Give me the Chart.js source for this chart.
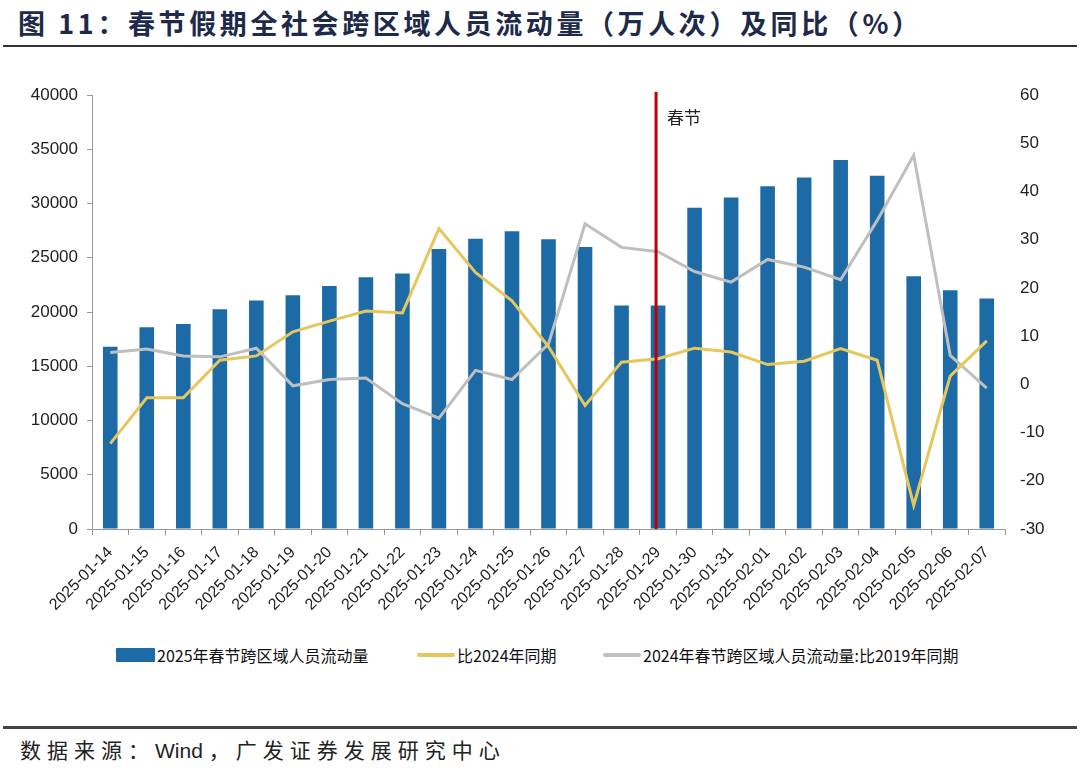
<!DOCTYPE html>
<html lang="zh-CN">
<head>
<meta charset="utf-8">
<script src="https://cdn.jsdelivr.net/npm/chart.js@4.4.1/dist/chart.umd.min.js"></script>
<style>
  body { margin: 0; background: #fff; width: 1080px; height: 774px; overflow: hidden; position: relative; font-family: "Noto Sans CJK SC", sans-serif; }
  #titulo { position: absolute; left: 18px; top: 3px; font-size: 27px; font-weight: bold; color: #1e2a4a; letter-spacing: 3.6px; white-space: nowrap; }
  #linea1 { position: absolute; left: 3px; width: 1074px; top: 45px; height: 2px; background: #333; }
  #wrap { position: absolute; left: 0; top: 0; width: 1080px; height: 624px; }
  #leyenda { position: absolute; left: 0; top: 643px; width: 1080px; height: 24px; font-size: 16px; color: #111; }
  .item { position: absolute; top: 0; height: 24px; display: flex; align-items: center; white-space: nowrap; }
  .marca { margin-right: 2px; }
  #linea2 { position: absolute; left: 3px; width: 1074px; top: 726px; height: 3px; background: #444; }
  #fuente { position: absolute; left: 20px; top: 734px; font-size: 21px; color: #222; letter-spacing: 6px; white-space: nowrap; }
  #fuente span { letter-spacing: 0; margin-right: 6px; font-family: "Liberation Sans", Arial, sans-serif; }
</style>
</head>
<body>
<div id="titulo">图 11：春节假期全社会跨区域人员流动量（万人次）及同比（%）</div>
<div id="linea1"></div>
<div id="wrap"><canvas id="grafico"></canvas></div>
<div id="leyenda"></div>
<div id="linea2"></div>
<div id="fuente">数据来源：<span>Wind</span>，广发证券发展研究中心</div>

<script>
// datos
const fechas = ['2025-01-14', '2025-01-15', '2025-01-16', '2025-01-17', '2025-01-18', '2025-01-19',
  '2025-01-20', '2025-01-21', '2025-01-22', '2025-01-23', '2025-01-24', '2025-01-25', '2025-01-26',
  '2025-01-27', '2025-01-28', '2025-01-29', '2025-01-30', '2025-01-31', '2025-02-01', '2025-02-02',
  '2025-02-03', '2025-02-04', '2025-02-05', '2025-02-06', '2025-02-07'];

const flujo2025 = [16800, 18600, 18900, 20250, 21050, 21550, 22400, 23200, 23550, 25800, 26750, 27450, 26700,
  26000, 20600, 20600, 29600, 30550, 31600, 32400, 34000, 32550, 23300, 22000, 21250];

const vs2024 = [-12.3, -2.8, -2.8, 5.0, 5.9, 10.9, 13.1, 15.2, 14.8, 32.3, 23.2, 17.3, 7.8,
  -4.4, 4.6, 5.3, 7.5, 6.7, 4.1, 4.8, 7.4, 5.0, -25.1, 1.7, 9.0];

const flujo2024vs2019 = [6.6, 7.3, 5.9, 5.7, 7.5, -0.3, 1.0, 1.3, -4.0, -7.0, 2.9, 1.0, 8.4,
  33.3, 28.4, 27.5, 23.4, 21.2, 25.9, 24.3, 21.7, 34.0, 47.5, 6.0, -0.8];

const nombres = ['2025年春节跨区域人员流动量', '比2024年同期', '2024年春节跨区域人员流动量:比2019年同期'];
const colores = ['#1c6aa6', '#e6c75d', '#bfbfbf'];

const diaFestivo = '2025-01-29';

const fuenteNum = '"Liberation Sans", Arial, sans-serif';

// linea roja del dia de año nuevo
const lineaFestivo = {
  id: 'lineaFestivo',
  afterDatasetsDraw(chart) {
    const { ctx, chartArea, scales } = chart;
    const x = scales.x.getPixelForValue(fechas.indexOf(diaFestivo)) - 2;
    ctx.save();
    ctx.strokeStyle = '#c00000';
    ctx.lineWidth = 3;
    ctx.beginPath();
    ctx.moveTo(x, chartArea.top - 3);
    ctx.lineTo(x, chartArea.bottom);
    ctx.stroke();
    ctx.fillStyle = '#222';
    ctx.font = '17px "Noto Sans CJK SC"';
    ctx.textBaseline = 'middle';
    ctx.fillText('春节', x + 11, chartArea.top + 23);
    ctx.restore();
  }
};

const ctx = document.getElementById('grafico').getContext('2d');
new Chart(ctx, {
  type: 'bar',
  data: {
    labels: fechas,
    datasets: [
      {
        label: nombres[0],
        data: flujo2025,
        backgroundColor: colores[0],
        borderWidth: 0,
        barPercentage: 0.8,
        categoryPercentage: 0.5,
        yAxisID: 'y',
        order: 3
      },
      {
        type: 'line',
        label: nombres[1],
        data: vs2024,
        borderColor: colores[1],
        borderWidth: 3,
        pointRadius: 0,
        tension: 0,
        yAxisID: 'y1',
        order: 1
      },
      {
        type: 'line',
        label: nombres[2],
        data: flujo2024vs2019,
        borderColor: colores[2],
        borderWidth: 3,
        pointRadius: 0,
        tension: 0,
        yAxisID: 'y1',
        order: 2
      }
    ]
  },
  options: {
    responsive: true,
    maintainAspectRatio: false,
    animation: false,
    layout: { padding: { top: 95, left: 0, right: 0, bottom: 0 } },
    plugins: {
      tooltip: { enabled: false },
      legend: { display: false }
    },
    scales: {
      x: {
        offset: true,
        grid: { display: true, offset: true, drawOnChartArea: false, tickLength: 6, color: '#999' },
        border: { display: true, color: '#999' },
        ticks: { minRotation: 45, maxRotation: 45, autoSkip: false, padding: 8, color: '#222', font: { family: fuenteNum, size: 16 } },
        afterFit(scale) { scale.height = 95; }
      },
      y: {
        position: 'left',
        min: 0,
        max: 40000,
        ticks: { stepSize: 5000, padding: 9, color: '#222', font: { family: fuenteNum, size: 17 }, callback: v => String(v) },
        grid: { drawOnChartArea: false, tickLength: 5, color: '#999' },
        border: { display: true, color: '#999' },
        afterFit(scale) { scale.width = 92; }
      },
      y1: {
        position: 'right',
        min: -30,
        max: 60,
        ticks: { stepSize: 10, padding: 15, color: '#222', font: { family: fuenteNum, size: 17 } },
        grid: { display: false, drawTicks: false },
        border: { display: false },
        afterFit(scale) { scale.width = 75; }
      }
    }
  },
  plugins: [lineaFestivo]
});

// leyenda en html
const posLeyenda = [116, 417, 603];
const leyenda = document.getElementById('leyenda');
nombres.forEach((nombre, i) => {
  const item = document.createElement('div');
  item.className = 'item';
  item.style.left = posLeyenda[i] + 'px';
  const marca = document.createElement('span');
  marca.className = 'marca';
  marca.style.display = 'inline-block';
  marca.style.width = (i === 0 ? 39 : 38) + 'px';
  marca.style.height = (i === 0 ? 14 : 4) + 'px';
  marca.style.background = colores[i];
  marca.style.borderRadius = i === 0 ? '1px' : '2px';
  const texto = document.createElement('span');
  texto.textContent = nombre;
  item.appendChild(marca);
  item.appendChild(texto);
  leyenda.appendChild(item);
});
</script>
</body>
</html>
